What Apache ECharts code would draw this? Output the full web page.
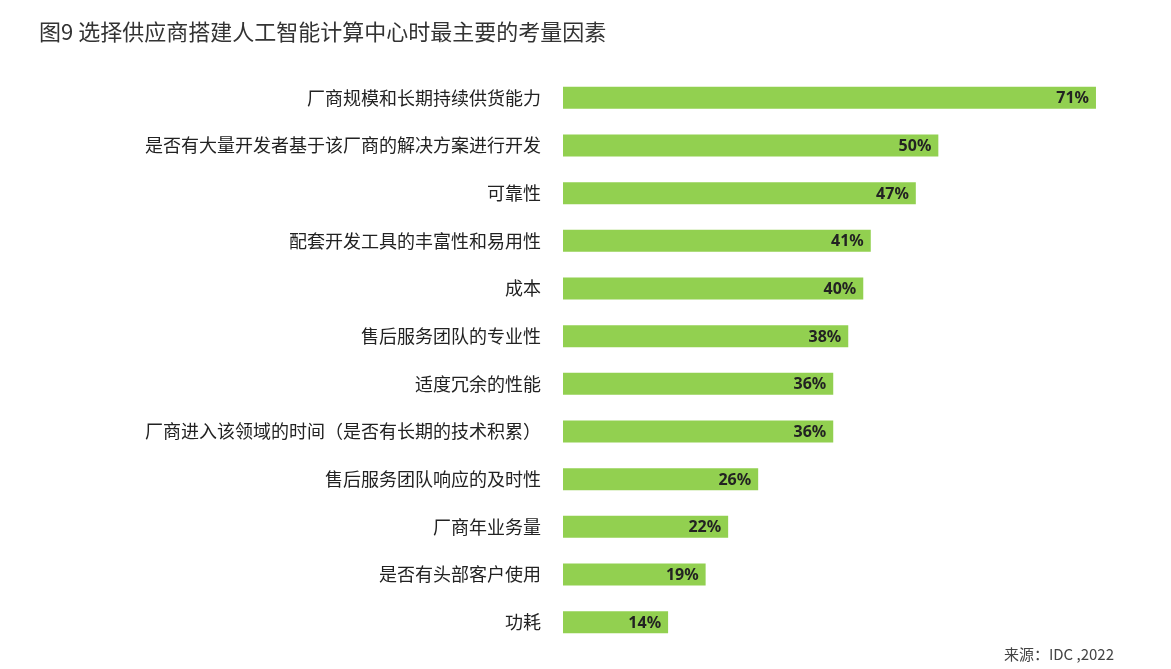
<!DOCTYPE html>
<html><head><meta charset="utf-8">
<script src="https://cdn.jsdelivr.net/npm/echarts@6/dist/echarts.min.js"></script>
<style>html,body{margin:0;padding:0;background:#fff}#c{width:1171px;height:669px}</style>
</head><body><div id="c"></div>
<script>
const categories = ["厂商规模和长期持续供货能力","是否有大量开发者基于该厂商的解决方案进行开发","可靠性","配套开发工具的丰富性和易用性","成本","售后服务团队的专业性","适度冗余的性能","厂商进入该领域的时间（是否有长期的技术积累）","售后服务团队响应的及时性","厂商年业务量","是否有头部客户使用","功耗"];
const values = [71,50,47,41,40,38,36,36,26,22,19,14];
const chart = echarts.init(document.getElementById('c'));
chart.setOption({
  backgroundColor:'#fff',
  title:[{text:'图9 选择供应商搭建人工智能计算中心时最主要的考量因素',left:34,top:16,textStyle:{fontFamily:'Noto Sans CJK SC',fontSize:22,fontWeight:'normal',color:'#333'}},
    {text:'来源：IDC ,2022',right:52,bottom:2,textStyle:{fontFamily:'Noto Sans CJK SC',fontSize:15,fontWeight:'normal',color:'#444'}}],
  grid:{left:563,right:45,top:74,bottom:23},
  xAxis:{type:'value',min:0,max:75,show:false},
  yAxis:{type:'category',data:categories,inverse:true,axisLine:{show:false},axisTick:{show:false},
    axisLabel:{margin:22,fontFamily:'Noto Sans CJK SC',fontSize:18,color:'#222'}},
  series:[{type:'bar',data:values,barWidth:22,itemStyle:{color:'#92D050'},
    label:{show:true,position:'insideRight',formatter:'{c}%',color:'#222',fontWeight:'bold',fontSize:16,fontFamily:'Noto Sans',offset:[-2,1]}}]
});
</script></body></html>
